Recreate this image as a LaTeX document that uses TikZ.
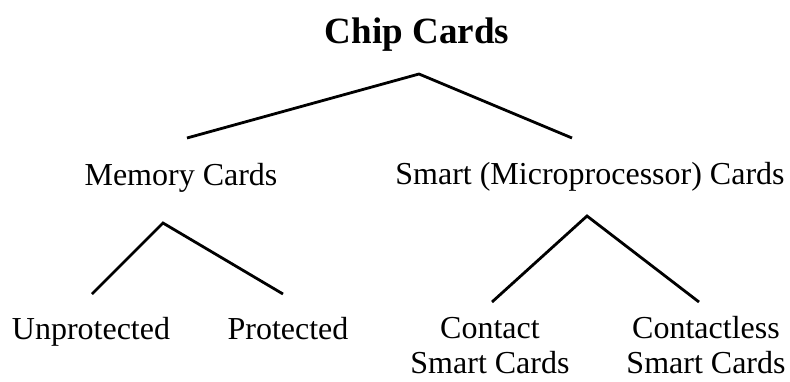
\documentclass[tikz,border=0pt]{standalone}
\usepackage{fontspec}
\setmainfont{Liberation Serif}
\begin{document}
\begin{tikzpicture}[x=1pt,y=-1pt,
  label/.style={inner sep=0pt,anchor=base,font=\fontsize{32}{35}\selectfont,align=center},
  heading/.style={inner sep=0pt,anchor=base,font=\fontsize{37}{40}\selectfont\bfseries},
  branch/.style={line width=2.8pt,line join=miter,line cap=butt}]
\useasboundingbox (0,0) rectangle (790,381);

% labels (two-line labels are anchored on their last baseline)
\node[heading] (chip) at (417,43) {Chip Cards};
\node[label] (memory) at (181,185) {Memory Cards};
\node[label] (smart) at (590,184) {Smart (Microprocessor) Cards};
\node[label] (unprot) at (91,339) {Unprotected};
\node[label] (prot) at (288,339) {Protected};
\node[label] (contact) at (490,373) {Contact\\Smart Cards};
\node[label] (contactless) at (706,373) {Contactless\\Smart Cards};

% branch points
\coordinate (chipTop) at (419,74);
\coordinate (chipL) at (187,138);
\coordinate (chipR) at (572,138);
\coordinate (memTop) at (163,223);
\coordinate (memL) at (92,294);
\coordinate (memR) at (283,294);
\coordinate (smTop) at (587,216);
\coordinate (smL) at (492,302);
\coordinate (smR) at (699,302);

\draw[branch] (chipL) -- (chipTop) -- (chipR);
\draw[branch] (memL) -- (memTop) -- (memR);
\draw[branch] (smL) -- (smTop) -- (smR);
\end{tikzpicture}
\end{document}
